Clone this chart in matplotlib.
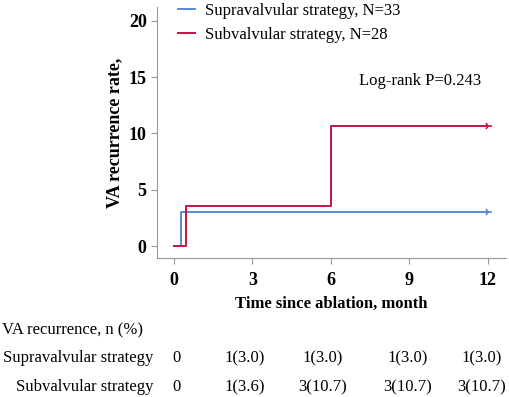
import matplotlib
matplotlib.use("Agg")
import matplotlib.pyplot as plt
import matplotlib.transforms as mtransforms

plt.rcParams['font.family'] = ['Liberation Serif', 'DejaVu Serif']

# step curves (time in months, cumulative recurrence %)
supra_t = [0, 0.25, 0.25, 12]
supra_y = [0, 0, 3.0, 3.0]
sub_t = [0, 0.45, 0.45, 6, 6, 12]
sub_y = [0, 0, 3.6, 3.6, 10.7, 10.7]

ticks_x = [0, 3, 6, 9, 12]
ticks_y = [0, 5, 10, 15, 20]
row_names = ['Supravalvular strategy', 'Subvalvular strategy']
supra_n = ['0', '1(3.0)', '1(3.0)', '1(3.0)', '1(3.0)']
sub_n = ['0', '1(3.6)', '3(10.7)', '3(10.7)', '3(10.7)']

blue = '#5b8ad4'
red = '#c01840'

fig = plt.figure(figsize=(5.10, 3.97), dpi=100)
ax = fig.add_axes([0.308, 0.350, 0.684, 0.632])

ax.plot(supra_t, supra_y, color=blue, lw=1.4, label='Supravalvular strategy, N=33')
ax.plot(sub_t, sub_y, color=red, lw=1.4, label='Subvalvular strategy, N=28')
ax.plot([12], [3.0], marker='4', color=blue, ms=6, mew=1.2)
ax.plot([12], [10.7], marker='4', color=red, ms=6, mew=1.2)

ax.set_xlim(-0.65, 12.7)
ax.set_ylim(-1.05, 21.2)
ax.set_xticks(ticks_x)
ax.set_yticks(ticks_y)
for s in ['top', 'right']:
    ax.spines[s].set_visible(False)
for s in ['left', 'bottom']:
    ax.spines[s].set_color('#999999')
ax.tick_params(colors='#999999', labelcolor='black', labelsize=13, length=4)
ax.tick_params(axis='x', pad=6)
for lab in ax.get_xticklabels() + ax.get_yticklabels():
    lab.set_fontweight('bold')

ax.set_ylabel('VA recurrence rate,', fontsize=13, fontweight='bold', labelpad=4)
ax.set_xlabel('Time since ablation, month', fontsize=12, fontweight='bold', labelpad=5)

ax.legend(loc='upper left', bbox_to_anchor=(0.06, 1.018), frameon=False,
          fontsize=12, handlelength=1.0, handletextpad=0.6, borderpad=0,
          borderaxespad=0, labelspacing=0.5)
ax.text(0.93, 0.705, 'Log-rank P=0.243', transform=ax.transAxes,
        ha='right', va='center', fontsize=12)

# table of recurrences under the axis
tr = mtransforms.blended_transform_factory(ax.transData, fig.transFigure)
col_shift_px = [2, -8, -8, -2, -6]
fig.text(0.004, 1 - 330 / 397, 'VA recurrence, n (%)', ha='left', va='center', fontsize=12)
row_y = [1 - 358 / 397, 1 - 387 / 397]
for name, vals, yy in zip(row_names, [supra_n, sub_n], row_y):
    fig.text(0.301, yy, name, ha='right', va='center', fontsize=12)
    for xv, v, dx in zip(ticks_x, vals, col_shift_px):
        off = mtransforms.ScaledTranslation(dx / 100, 0, fig.dpi_scale_trans)
        fig.text(xv, yy, v, transform=tr + off, ha='center', va='center', fontsize=12)

fig.savefig('out.png', dpi=100)
